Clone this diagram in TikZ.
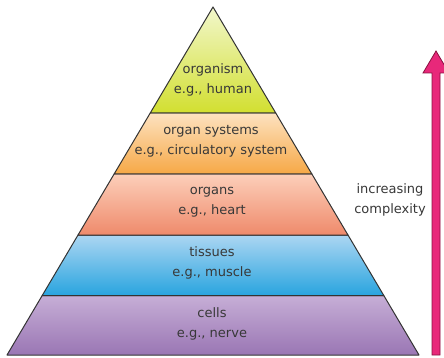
\documentclass[tikz,border=0pt]{standalone}
\usepackage{fontspec}
\setmainfont{DejaVu Sans}
\usetikzlibrary{calc}
\definecolor{txt}{HTML}{383838}
\definecolor{edge}{HTML}{333333}
\definecolor{pinkA}{HTML}{E8287A}
\definecolor{pinkB}{HTML}{8A1040}
\definecolor{cellT}{HTML}{C6AED6}\definecolor{cellB}{HTML}{9A76B4}
\definecolor{tisT}{HTML}{ACD6F2}\definecolor{tisB}{HTML}{28A4DF}
\definecolor{orgT}{HTML}{FCCFBA}\definecolor{orgB}{HTML}{EF8A6B}
\definecolor{sysT}{HTML}{FDE2C0}\definecolor{sysB}{HTML}{F6A846}
\definecolor{ismT}{HTML}{F2F7CC}\definecolor{ismB}{HTML}{D2DF30}
\tikzset{
  layer/.style={draw=edge, line width=1pt, line join=round},
  lbl/.style={text=txt, font=\fontsize{13}{20}\selectfont, align=center, inner sep=0pt},
}
\begin{document}
\begin{tikzpicture}[x=1pt,y=-1pt]
\useasboundingbox (0,0) rectangle (444,358);
\coordinate (apex) at (213,7);
% cells
\path[layer, top color=cellT, bottom color=cellB]
  ({213-0.592*288.7},295.7) -- ({213+0.592*288.7},295.7) -- (419,355) -- (7,355) -- cycle;
% tissues
\path[layer, top color=tisT, bottom color=tisB]
  ({213-0.592*228},235) -- ({213+0.592*228},235) -- ({213+0.592*288.7},295.7) -- ({213-0.592*288.7},295.7) -- cycle;
% organs
\path[layer, top color=orgT, bottom color=orgB]
  ({213-0.592*167},174) -- ({213+0.592*167},174) -- ({213+0.592*228},235) -- ({213-0.592*228},235) -- cycle;
% organ systems
\path[layer, top color=sysT, bottom color=sysB]
  ({213-0.592*106},113) -- ({213+0.592*106},113) -- ({213+0.592*167},174) -- ({213-0.592*167},174) -- cycle;
% organism
\path[layer, top color=ismT, bottom color=ismB]
  (apex) -- ({213+0.592*106},113) -- ({213-0.592*106},113) -- cycle;

\node[lbl] (organism) at (213,80) {organism\\e.g., human};
\node[lbl] (systems) at (211,141) {organ systems\\e.g., circulatory system};
\node[lbl] (organs) at (212,202) {organs\\e.g., heart};
\node[lbl] (tissues) at (212,263) {tissues\\e.g., muscle};
\node[lbl] (cells) at (212,324) {cells\\e.g., nerve};
\node[lbl] (complex) at (390,200) {increasing\\complexity};

% arrow
\coordinate (abot) at (436,355);
\coordinate (atop) at (436,51);
\path[draw=pinkB, fill=pinkA, line width=0.8pt, line join=miter]
  ($(abot)+(-4,0)$) -- ($(atop)+(-4,22)$) -- ($(atop)+(-13,22)$) -- (atop)
  -- ($(atop)+(13,22)$) -- ($(atop)+(4,22)$) -- ($(abot)+(4,0)$) -- cycle;
\end{tikzpicture}
\end{document}
